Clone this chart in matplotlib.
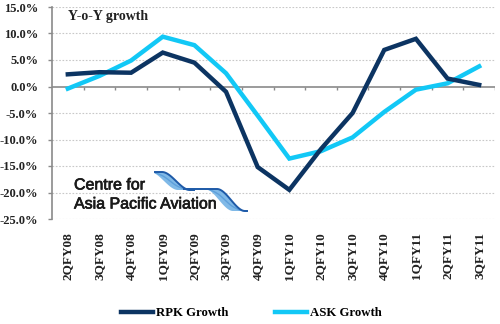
import matplotlib
matplotlib.use("Agg")
import matplotlib.pyplot as plt
import numpy as np
from matplotlib.patches import Polygon
import matplotlib.patheffects as pe

categories = ["2QFY08", "3QFY08", "4QFY08", "1QFY09", "2QFY09", "3QFY09", "4QFY09",
              "1QFY10", "2QFY10", "3QFY10", "4QFY10", "1QFY11", "2QFY11", "3QFY11"]
rpk = [2.3, 2.7, 2.6, 6.4, 4.5, -1.0, -15.2, -19.5, -11.8, -5.0, 6.9, 9.0, 1.5, 0.3]
ask = [-0.4, 2.0, 4.9, 9.4, 7.8, 2.5, -5.5, -13.6, -12.2, -9.6, -4.8, -0.6, 0.6, 3.8]
yticks = [15, 10, 5, 0, -5, -10, -15, -20, -25]

RPK_C = "#0c3462"
ASK_C = "#12c8f6"
serif = "Liberation Serif"
W, H = 500, 324

fig = plt.figure(figsize=(5.0, 3.24), dpi=100)
ax = fig.add_axes([52/W, 1 - 219/H, (495-52)/W, (219-7)/H])

x = np.arange(len(categories)) + 0.5
ax.set_xlim(0, len(categories))
ax.set_ylim(-25, 15)

for v in yticks:
    if v != 0:
        ax.axhline(v, color="#c8c8c8", lw=0.8, ls=(0, (1.5, 1.5)), zorder=1)
ax.axhline(0, color="#8a8a8a", lw=1.2, zorder=2)
bounds = np.arange(1, len(categories) + 1)
ax.vlines(bounds, -0.6, 0, color="#8a8a8a", lw=1.0, zorder=2)

ax.plot(x, rpk, color=RPK_C, lw=3.2, solid_joinstyle="miter", zorder=4, label="RPK Growth")
ax.plot(x, ask, color=ASK_C, lw=3.2, solid_joinstyle="miter", zorder=3, label="ASK Growth")

for s in ["top", "right", "bottom"]:
    ax.spines[s].set_visible(False)
ax.spines["left"].set_color("#8a8a8a")
ax.spines["left"].set_linewidth(1.2)
ax.set_yticks(yticks)
ax.set_yticklabels([f"{v:.1f}%" for v in yticks], fontfamily=serif, fontweight="bold",
                   fontsize=9, color="#222222")
ax.tick_params(axis="y", length=3, width=1.0, color="#8a8a8a", pad=7)
ax.set_xticks(x)
ax.set_xticklabels(categories, rotation=90, fontfamily=serif, fontweight="bold",
                   fontsize=9.5, color="#222222")
ax.tick_params(axis="x", length=0, pad=9.5)

ax.text(0.035, 0.985, "Y-o-Y growth", transform=ax.transAxes, fontfamily=serif,
        fontweight="bold", fontsize=10, va="top", ha="left", color="#222222")

# logo
stroke = [pe.withStroke(linewidth=0.5, foreground="#1a1a1a")]
fig.text(74/W, 1 - 185/H, "Centre for", fontfamily="Liberation Sans", fontsize=11.5,
         color="#1a1a1a", va="center", path_effects=stroke)
fig.text(74/W, 1 - 204/H, "Asia Pacific Aviation", fontfamily="Liberation Sans",
         fontsize=11.5, color="#1a1a1a", va="center", path_effects=stroke)


def S(t):
    t = np.clip(t, 0, 1)
    return t * t * (3 - 2 * t)


def swoosh(x0, x1, y0, dy, start, span, lead):
    xs = np.linspace(x0, x1, 100)
    yu = y0 + dy * S((xs - start) / span)
    yl = y0 + dy * S((xs - start + lead) / span)
    pts = [(xx / W, 1 - yy / H) for xx, yy in zip(xs, yu)] + \
          [(xx / W, 1 - yy / H) for xx, yy in zip(xs[::-1], yl[::-1])]
    fig.add_artist(Polygon(pts, closed=True, transform=fig.transFigure,
                           color="#79b6e6", lw=0, alpha=0.95))
    mid = 0.5 * (yu + yl)
    fig.add_artist(plt.Line2D(xs / W, 1 - mid / H, transform=fig.transFigure,
                              color="#4f95d6", lw=1.0, alpha=0.7))
    fig.add_artist(plt.Line2D(xs / W, 1 - yu / H, transform=fig.transFigure,
                              color="#1e5aa8", lw=1.4))


swoosh(155, 194, 172, 18, 162, 28, 12)
swoosh(184, 247, 189, 22, 217, 28, 12)

leg = fig.legend(loc="center", bbox_to_anchor=(0.503, 1 - 313/H), ncol=2, frameon=False,
                 prop={"family": serif, "weight": "bold", "size": 9.2},
                 handlelength=2.5, columnspacing=3.6, handletextpad=0.25)

fig.savefig("out.png", dpi=100)
